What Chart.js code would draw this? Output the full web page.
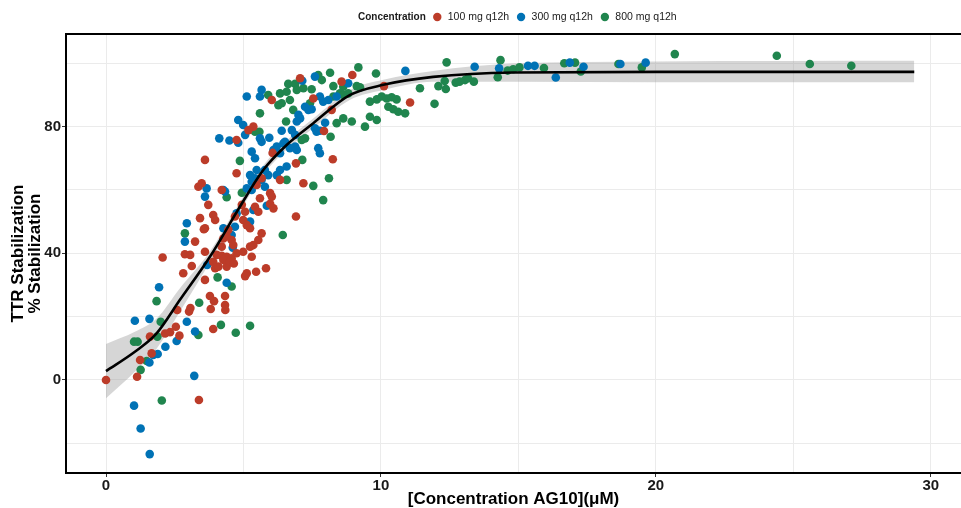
<!DOCTYPE html>
<html>
<head>
<meta charset="utf-8">
<script src="https://cdn.jsdelivr.net/npm/chart.js@4"></script>
<style>
  html, body { margin: 0; padding: 0; background: #fff; overflow: hidden; }
</style>
</head>
<body>
<canvas id="stabChart" width="961" height="508"></canvas>
<script>
// groups
const seriesNames = ['100 mg q12h', '300 mg q12h', '800 mg q12h'];
const seriesColors = ['#BC3C29', '#0072B5', '#20854E'];

// [concentration (uM), % stabilization]
const dose100 = [
  [2.06,38.7],[3.12,36.0],[3.97,35.3],[4.09,35.8],[4.39,35.8],[2.81,33.7],[3.60,31.6],[5.12,33.7],[5.06,32.8],
  [5.46,34.2],[5.82,35.3],[3.78,26.5],[4.33,26.5],[3.60,40.5],[2.87,39.7],[3.06,39.5],[4.03,39.5],[4.21,39.2],
  [4.39,38.9],[4.57,38.4],[4.75,40.0],[4.99,40.5],[4.27,37.9],[4.51,37.4],[5.30,38.9],[3.90,37.3],[4.65,36.8],
  [2.59,22.1],[3.02,21.6],[3.07,22.7],[3.81,22.4],[3.93,24.9],[4.33,23.7],[4.34,22.1],[2.54,16.8],[2.33,15.1],
  [2.15,14.7],[2.67,14.0],[1.60,13.7],[1.66,8.4],[1.24,6.3],[1.13,1.0],[0,0],[3.90,16.1],[3.38,-6.3],
  [8.96,96.3],[7.06,95.3],[8.57,94.2],[6.03,88.4],[10.11,92.8],[7.54,88.9],[8.21,85.3],[11.06,87.6],[5.36,80.0],
  [7.93,78.6],[4.75,75.8],[5.18,78.9],[6.91,68.4],[8.25,69.7],[7.18,62.1],[3.60,69.5],[6.33,63.2],[5.48,61.6],
  [5.66,63.7],[3.36,61.0],[3.48,62.1],[4.21,60.0],[5.97,59.0],[6.03,57.9],[5.60,57.4],[5.42,54.7],[5.54,53.1],
  [5.97,55.6],[6.09,54.2],[4.94,55.3],[5.06,53.1],[4.69,51.6],[4.99,50.5],[5.24,47.9],[5.12,48.9],[3.72,55.3],
  [3.90,52.1],[3.97,50.5],[3.42,51.1],[3.60,47.9],[3.24,43.7],[6.91,51.6],[4.27,44.7],[4.57,44.2],[4.63,42.6],
  [4.21,42.1],[5.66,46.3],[5.54,44.2],[5.36,42.6],[5.24,42.1],[3.56,47.6],[4.45,47.4],[4.39,45.3],[4.75,65.3],
  [6.06,71.7]
];
const dose300 = [
  [1.93,29.3],[3.68,36.3],[4.39,30.7],
  [1.05,18.7],[1.58,19.3],[2.94,18.4],[3.24,15.3],[2.57,12.3],[2.16,10.5],[1.72,7.9],[1.88,8.2],[1.58,5.5],
  [3.21,1.3],[1.02,-8.1],[1.26,-15.3],[1.59,-23.4],
  [10.89,97.6],[7.60,95.8],[7.14,94.5],[8.81,93.7],[5.66,91.6],[5.60,89.5],[5.12,89.5],[7.78,89.5],[8.09,88.4],
  [8.39,89.5],[7.90,87.9],[7.24,86.3],[7.36,85.3],[7.48,85.5],[7.00,83.7],[7.06,82.6],[6.94,81.6],[7.97,81.2],
  [4.81,82.1],[4.99,80.5],[6.39,78.7],[6.76,78.9],[6.88,77.4],[7.60,79.5],[7.66,78.4],[7.78,78.7],[4.12,76.3],
  [4.49,75.6],[4.81,74.9],[5.06,77.4],[5.60,76.3],[5.66,75.2],[5.94,76.5],[6.45,74.7],[6.21,73.7],[6.09,72.6],
  [6.33,71.6],[6.69,73.2],[6.88,73.7],[6.51,75.2],[6.94,72.6],[7.72,73.2],[7.78,71.6],[5.30,72.1],[5.42,70.0],
  [6.57,67.4],[6.33,66.3],[6.21,64.7],[5.90,64.7],[5.78,66.3],[5.48,66.3],[5.24,64.7],[5.42,63.7],[5.66,63.2],
  [5.30,62.6],[5.78,61.0],[5.12,60.5],[5.30,60.0],[4.27,60.0],[4.33,59.5],[3.66,60.5],[3.60,57.9],[5.85,55.0],
  [5.36,53.7],[5.24,50.0],[5.18,49.5],[2.94,49.5],[2.87,43.7],[4.27,47.9],[4.69,48.4],[4.57,45.8],[4.61,41.8],
  [4.75,52.6],
  [13.41,98.9],[14.30,98.4],[15.35,99.2],[15.59,99.2],[16.87,100.2],[17.37,98.9],[16.36,95.5],[18.71,99.8],[19.63,100.2]
];
const dose800 = [
  [4.06,32.4],[4.57,29.5],
  [1.84,24.9],[1.99,18.4],[3.39,24.4],[1.87,13.7],[3.36,14.2],[1.02,12.1],[1.15,12.1],[1.48,6.0],[1.26,3.2],
  [4.18,17.4],[4.72,14.9],[5.24,17.1],[2.03,-6.5],
  [9.18,98.7],[9.82,96.8],[7.72,96.3],[8.15,97.0],[7.85,94.7],[6.63,93.5],[6.88,93.5],[8.27,92.8],[8.63,92.6],
  [9.12,92.8],[9.24,92.4],[6.33,90.5],[6.57,91.0],[6.94,91.6],[7.18,92.1],[7.48,91.8],[5.90,90.0],[8.51,90.5],
  [8.27,89.5],[8.63,90.0],[8.81,90.5],[6.69,88.4],[6.39,87.4],[6.27,86.8],[7.42,87.4],[9.60,87.9],[9.85,88.6],
  [10.03,89.5],[10.21,88.9],[10.39,89.3],[10.57,88.6],[11.42,92.1],[10.27,86.3],[10.45,85.5],[10.63,84.7],[10.88,84.2],
  [5.60,84.2],[6.81,85.3],[6.55,81.6],[9.60,83.1],[9.85,82.1],[8.94,81.6],[8.63,82.6],[8.39,81.1],[9.42,80.0],
  [5.42,78.4],[5.58,78.4],[7.24,76.3],[7.12,75.8],[8.17,76.8],[7.14,69.5],[8.11,63.7],[7.54,61.3],[7.90,56.8],
  [4.87,69.2],[6.57,63.2],[4.94,59.1],[4.39,57.7],[2.87,46.3],[6.43,45.8],
  [12.39,100.3],[14.35,101.0],[14.61,97.7],[14.81,98.1],[15.04,98.7],[15.93,98.5],[16.67,100.0],[17.06,100.2],
  [17.27,97.4],[18.64,99.8],[19.49,98.7],[20.69,102.9],[24.40,102.4],[25.60,99.8],[27.11,99.2],[11.95,87.2],
  [12.09,92.8],[12.32,94.4],[12.36,91.9],[12.72,93.9],[12.86,94.2],[13.06,94.7],[13.17,95.3],[13.38,94.2],[14.25,95.6]
];

// fitted curve and its confidence band
const fitX    = [0,    1.05, 1.84, 2.69, 3.78, 4.87, 5.72, 6.57, 7.54, 8.88, 10.09, 11.9, 14.8, 20,    29.4];
const fitY    = [2.8,  8.9,  14.7, 25.3, 38.9, 54.7, 66.3, 74.2, 81.1, 90.0, 93.2,  95.7, 97.1, 97.3,  97.3];
const fitLow  = [-5.8, 2.6,  9.9,  21.6, 37.2, 53.3, 64.9, 72.8, 79.6, 88.5, 91.6,  94.2, 94.2, 94.0,  94.0];
const fitHigh = [11.4, 15.2, 19.4, 29.0, 40.6, 56.1, 67.7, 75.6, 82.6, 91.6, 94.8,  97.6, 99.9, 100.6, 100.8];

const xTicks = [0, 5, 10, 15, 20, 25, 30];
const xLabels = [0, 10, 20, 30];
const yTicks = [-20, 0, 20, 40, 60, 80, 100];
const yLabels = [0, 40, 80];

const FONT = '"Liberation Sans", Arial, sans-serif';
Chart.defaults.font.family = FONT;

const toPts = arr => arr.map(p => ({ x: p[0], y: p[1] }));
const curve = ys => fitX.map((x, i) => ({ x: x, y: ys[i] }));

const topLegend = {
  id: 'topLegend',
  afterDraw(chart) {
    const ctx = chart.ctx;
    const a = chart.chartArea;
    ctx.save();
    // top edge of the panel frame
    ctx.strokeStyle = '#000';
    ctx.lineWidth = 2;
    ctx.beginPath();
    ctx.moveTo(a.left - 1, a.top);
    ctx.lineTo(a.right, a.top);
    ctx.stroke();

    ctx.textBaseline = 'middle';
    const y = 17;
    let x = 358;
    ctx.font = 'bold 10px ' + FONT;
    ctx.fillStyle = '#1a1a1a';
    ctx.fillText('Concentration', x, y);
    x += ctx.measureText('Concentration').width + 11.5;
    ctx.font = '10.5px ' + FONT;
    seriesNames.forEach((name, i) => {
      ctx.fillStyle = seriesColors[i];
      ctx.beginPath();
      ctx.arc(x, y, 4.2, 0, Math.PI * 2);
      ctx.fill();
      ctx.fillStyle = '#1a1a1a';
      ctx.fillText(name, x + 10.5, y);
      x += 10.5 + ctx.measureText(name).width + 12;
    });
    ctx.restore();
  }
};

const pointSet = (i, arr) => ({
  label: seriesNames[i],
  data: toPts(arr),
  backgroundColor: seriesColors[i],
  borderWidth: 0,
  pointRadius: 4.3,
  order: 1
});

new Chart(document.getElementById('stabChart').getContext('2d'), {
  type: 'scatter',
  data: {
    datasets: [
      pointSet(0, dose100),
      pointSet(1, dose300),
      pointSet(2, dose800),
      {
        label: 'upper',
        data: curve(fitHigh),
        showLine: true,
        pointRadius: 0,
        borderColor: 'rgba(0,0,0,0)',
        borderWidth: 1,
        backgroundColor: 'rgba(153,153,153,0.4)',
        fill: '+1',
        cubicInterpolationMode: 'monotone',
        order: 2
      },
      {
        label: 'lower',
        data: curve(fitLow),
        showLine: true,
        pointRadius: 0,
        borderColor: 'rgba(0,0,0,0)',
        borderWidth: 1,
        fill: false,
        cubicInterpolationMode: 'monotone',
        order: 2
      },
      {
        label: 'fit',
        data: curve(fitY),
        showLine: true,
        pointRadius: 0,
        borderColor: '#000',
        borderWidth: 2.6,
        fill: false,
        cubicInterpolationMode: 'monotone',
        order: 0
      }
    ]
  },
  options: {
    responsive: false,
    animation: false,
    devicePixelRatio: 1,
    layout: { autoPadding: false, padding: { top: 34, left: 0, right: 0, bottom: 0 } },
    plugins: {
      legend: { display: false },
      tooltip: { enabled: false }
    },
    scales: {
      x: {
        type: 'linear',
        min: -1.455,
        max: 31.1,
        afterBuildTicks: s => { s.ticks = xTicks.map(v => ({ value: v })); },
        afterFit: s => { s.height = 35; },
        grid: {
          color: '#ebebeb',
          lineWidth: 1,
          tickLength: 4,
          tickColor: c => (c.tick && xLabels.includes(c.tick.value)) ? '#333' : 'rgba(0,0,0,0)'
        },
        border: { display: true, color: '#000', width: 2 },
        ticks: {
          color: '#1a1a1a',
          font: { size: 15, weight: 'bold' },
          padding: 0,
          maxRotation: 0,
          autoSkip: false,
          callback: v => xLabels.includes(v) ? String(v) : ''
        },
        title: {
          display: true,
          text: '[Concentration AG10](\u03bcM)',
          color: '#000',
          font: { size: 17, weight: 'bold', lineHeight: 1 },
          padding: { top: 0, bottom: 0 }
        }
      },
      y: {
        type: 'linear',
        min: -29.37,
        max: 109.25,
        afterBuildTicks: s => { s.ticks = yTicks.map(v => ({ value: v })); },
        afterFit: s => { s.width = 66; },
        grid: {
          color: '#ebebeb',
          lineWidth: 1,
          tickLength: 4,
          tickColor: c => (c.tick && yLabels.includes(c.tick.value)) ? '#333' : 'rgba(0,0,0,0)'
        },
        border: { display: true, color: '#000', width: 2 },
        ticks: {
          color: '#1a1a1a',
          font: { size: 15, weight: 'bold' },
          padding: 1,
          autoSkip: false,
          callback: v => yLabels.includes(v) ? String(v) : ''
        },
        title: {
          display: true,
          text: ['TTR Stabilization', '% Stabilization'],
          color: '#000',
          font: { size: 17, weight: 'bold', lineHeight: 1 },
          padding: { top: 9.5, bottom: 0 }
        }
      }
    }
  },
  plugins: [topLegend]
});
</script>
</body>
</html>
